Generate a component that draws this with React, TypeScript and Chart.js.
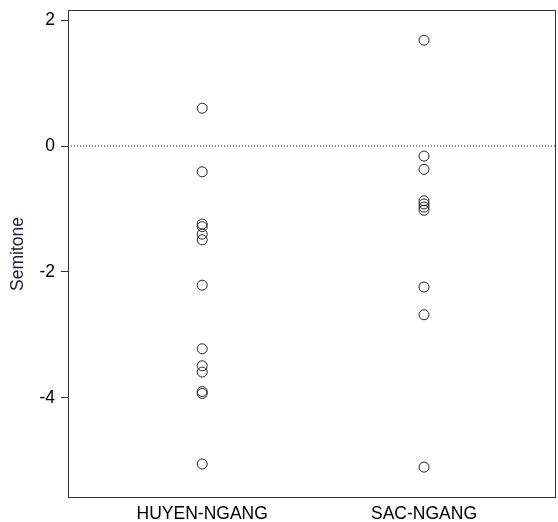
import React, { useEffect, useRef } from "react";
import { Chart, registerables } from "chart.js";

Chart.register(...registerables);

const categories = ["HUYEN-NGANG", "SAC-NGANG"];
const huyenValues = [0.6, -0.41, -1.24, -1.28, -1.4, -1.49, -2.21, -3.22, -3.49, -3.59, -3.9, -3.93, -5.05];
const sacValues = [1.68, -0.16, -0.37, -0.87, -0.92, -0.97, -1.02, -2.24, -2.68, -5.1];
const yTicks = [-4, -2, 0, 2];
const yRange = [-5.59, 2.16];
const xRange = [0.395, 2.595];

const FONT = "'Liberation Sans', Arial, sans-serif";

export default function App() {
  const ref = useRef<HTMLCanvasElement | null>(null);
  useEffect(() => {
    if (!ref.current) return;
    const framePlugin = {
      id: "frame",
      afterDraw(chart: any) {
        const { ctx, chartArea } = chart;
        ctx.save();
        ctx.strokeStyle = "#333";
        ctx.lineWidth = 1;
        ctx.strokeRect(
          Math.round(chartArea.left) + 0.5,
          Math.round(chartArea.top) + 0.5,
          Math.round(chartArea.right - chartArea.left) - 1,
          Math.round(chartArea.bottom - chartArea.top) - 1
        );
        ctx.restore();
      },
    };
    const pointData = [
      ...huyenValues.map((v) => ({ x: 1, y: v })),
      ...sacValues.map((v) => ({ x: 2, y: v })),
    ];
    const chart = new Chart(ref.current, {
      type: "scatter",
      data: {
        datasets: [
          {
            type: "line",
            data: [
              { x: xRange[0], y: 0 },
              { x: xRange[1], y: 0 },
            ],
            borderColor: "#222",
            borderWidth: 1,
            borderDash: [1, 2],
            pointRadius: 0,
            fill: false,
          } as any,
          {
            data: pointData,
            pointStyle: "circle",
            pointRadius: 5,
            pointBorderWidth: 1,
            borderColor: "#222",
            backgroundColor: "rgba(0,0,0,0)",
            pointBackgroundColor: "rgba(0,0,0,0)",
          } as any,
        ],
      },
      plugins: [framePlugin],
      options: {
        animation: false,
        responsive: false,
        layout: { autoPadding: false, padding: { top: 10, right: 2, left: 0, bottom: 0 } },
        plugins: { legend: { display: false }, tooltip: { enabled: false } },
        scales: {
          x: {
            type: "linear",
            min: xRange[0],
            max: xRange[1],
            afterBuildTicks: (s: any) => {
              s.ticks = [{ value: 1 }, { value: 2 }];
            },
            afterFit: (s: any) => {
              s.height = 24;
              s.paddingLeft = 0;
              s.paddingRight = 0;
            },
            ticks: {
              callback: (v: any) => categories[Math.round(Number(v)) - 1] ?? "",
              color: "#000",
              font: { family: FONT, size: 17.5 },
              padding: 6,
              maxRotation: 0,
              autoSkip: false,
            },
            grid: { display: false, drawTicks: false },
            border: { display: false },
          },
          y: {
            type: "linear",
            min: yRange[0],
            max: yRange[1],
            afterBuildTicks: (s: any) => {
              s.ticks = yTicks.map((v) => ({ value: v }));
            },
            afterFit: (s: any) => {
              s.width = 68;
              s.paddingTop = 0;
              s.paddingBottom = 0;
            },
            ticks: {
              color: "#000",
              font: { family: FONT, size: 17.5 },
              padding: 6,
              callback: (v: any) => String(v),
            },
            grid: {
              display: true,
              drawOnChartArea: false,
              drawTicks: true,
              tickLength: 7,
              color: "#333",
            },
            border: { display: false },
            title: {
              display: true,
              text: "Semitone",
              color: "#1a1a40",
              font: { family: FONT, size: 17.5 },
              padding: { top: 8, bottom: 0 },
            },
          },
        },
      },
    });
    return () => chart.destroy();
  }, []);
  return (
    <div style={{ position: "fixed", left: 0, top: 0, width: 558, height: 522, background: "#fff" }}>
      <canvas ref={ref} width={558} height={522} style={{ width: 558, height: 522 }} />
    </div>
  );
}
